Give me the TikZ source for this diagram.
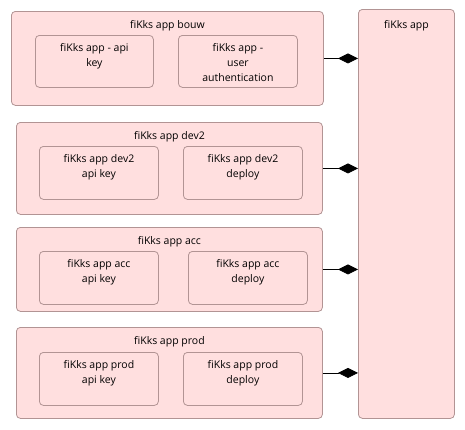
\documentclass[tikz,border=0pt]{standalone}
\usepackage{fontspec}
\setmainfont{Open Sans}
\usetikzlibrary{arrows.meta,positioning}

\definecolor{partfill}{RGB}{255,223,223}
\definecolor{partline}{RGB}{178,148,148}

\tikzset{
    part/.style={draw=partline, fill=partfill, line width=0.8pt,
        rounded corners=4pt, anchor=north west, inner sep=0pt},
    partname/.style={anchor=north, inner sep=0pt, align=center,
        font=\fontsize{10.5}{15}\selectfont},
    owns/.style={line width=0.8pt, -{Diamond[length=20pt, width=10pt]}}
}

\begin{document}
\begin{tikzpicture}[x=1pt, y=-1pt]
%\draw [help lines] (0,0) grid (465,429);
    \useasboundingbox (0,0) rectangle (465,429);

    \node [part, minimum width=96, minimum height=409] (app) at (358,9) {};
    \node [partname, below=11pt of app.north] (appname) {fiKks app};

    % bouw
    \node [part, minimum width=312, minimum height=94] (bouw) at (11,11) {};
    \node [partname, below=9pt of bouw.north] (bouwname) {fiKks app bouw};
    \node [part, minimum width=118, minimum height=52] (bouwkey) at (35,35) {};
    \node [partname, below=8pt of bouwkey.north] {fiKks app - api\\key};
    \node [part, minimum width=119, minimum height=52] (bouwauth) at (178,35) {};
    \node [partname, below=8pt of bouwauth.north] {fiKks app -\\user\\authentication};

    % dev2
    \node [part, minimum width=306, minimum height=92] (dev) at (16,122) {};
    \node [partname, below=9pt of dev.north] (devname) {fiKks app dev2};
    \node [part, minimum width=119, minimum height=53] (devkey) at (39,146) {};
    \node [partname, below=8pt of devkey.north] {fiKks app dev2\\api key};
    \node [part, minimum width=119, minimum height=53] (devdeploy) at (183,146) {};
    \node [partname, below=8pt of devdeploy.north] {fiKks app dev2\\deploy};

    % acc
    \node [part, minimum width=306, minimum height=84] (acc) at (16,227) {};
    \node [partname, below=9pt of acc.north] (accname) {fiKks app acc};
    \node [part, minimum width=119, minimum height=53] (acckey) at (39,251) {};
    \node [partname, below=8pt of acckey.north] {fiKks app acc\\api key};
    \node [part, minimum width=119, minimum height=53] (accdeploy) at (188,251) {};
    \node [partname, below=8pt of accdeploy.north] {fiKks app acc\\deploy};

    % prod
    \node [part, minimum width=306, minimum height=91] (prod) at (16,327) {};
    \node [partname, below=9pt of prod.north] (prodname) {fiKks app prod};
    \node [part, minimum width=119, minimum height=53] (prodkey) at (39,352) {};
    \node [partname, below=8pt of prodkey.north] {fiKks app prod\\api key};
    \node [part, minimum width=119, minimum height=53] (proddeploy) at (183,352) {};
    \node [partname, below=8pt of proddeploy.north] {fiKks app prod\\deploy};

    \draw [owns] (bouw.east) -- (bouw.east -| app.west);
    \draw [owns] (dev.east) -- (dev.east -| app.west);
    \draw [owns] (acc.east) -- (acc.east -| app.west);
    \draw [owns] (prod.east) -- (prod.east -| app.west);
\end{tikzpicture}
\end{document}
